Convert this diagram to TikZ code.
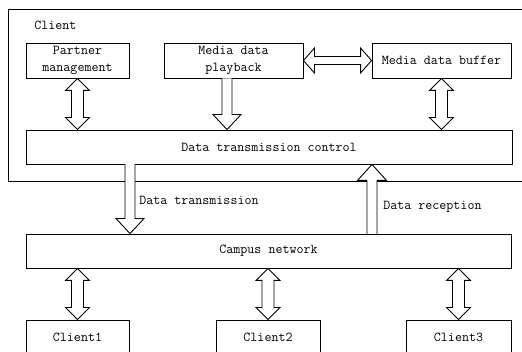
\documentclass[tikz,border=0pt]{standalone}
\usetikzlibrary{calc}
\begin{document}
\begin{tikzpicture}[x=1pt,y=1pt,line width=0.9pt,
  txt/.style={font=\fontsize{13.6}{17}\selectfont\ttfamily},
  blk/.style={draw,fill=white,txt,inner sep=0pt,align=center},
  arr/.style={draw,fill=white,line join=miter}]
\useasboundingbox (0,0) rectangle (522,-352);
\newcommand\mkvdbl[2]{%
 \draw[arr] let \p1=(#1), \p2=(#2) in
  (\x1,\y1) -- (\x1+12pt,\y1-12pt) -- (\x1+6pt,\y1-12pt) -- (\x1+6pt,\y2+12pt) -- (\x1+12pt,\y2+12pt) -- (\x1,\y2) -- (\x1-12pt,\y2+12pt) -- (\x1-6pt,\y2+12pt) -- (\x1-6pt,\y1-12pt) -- (\x1-12pt,\y1-12pt) -- cycle;}
\newcommand\mkdown[2]{%
 \draw[arr] let \p1=(#1), \p2=(#2) in
  (\x1-5pt,\y1) -- (\x1-5pt,\y2+15pt) -- (\x1-14pt,\y2+15pt) -- (\x1,\y2) -- (\x1+14pt,\y2+15pt) -- (\x1+5pt,\y2+15pt) -- (\x1+5pt,\y1);}
\newcommand\mkup[2]{%
 \draw[arr] let \p1=(#1), \p2=(#2) in
  (\x1-5pt,\y1) -- (\x1-5pt,\y2-16pt) -- (\x1-14.5pt,\y2-16pt) -- (\x1,\y2) -- (\x1+14.5pt,\y2-16pt) -- (\x1+5pt,\y2-16pt) -- (\x1+5pt,\y1);}
% outer client frame (open to the right)
\draw (522,-9) -- (8,-9) -- (8,-181) -- (522,-181);
\node[txt,anchor=west,inner sep=0pt] (cl) at (34,-25) {Client};
% blocks
\node[blk,minimum width=103,minimum height=35] (pm) at (77.5,-60.5) {Partner\\management};
\node[blk,minimum width=139,minimum height=35] (pb) at (233.5,-60.5) {Media data\\playback};
\node[blk,minimum width=139,minimum height=35] (buf) at (441.5,-60.5) {Media data buffer};
\node[blk,minimum width=486,minimum height=34] (dtc) at (269,-147) {Data transmission control};
\node[blk,minimum width=485,minimum height=34] (cn) at (268.5,-251) {Campus network};
\node[blk,minimum width=103,minimum height=34] (c1) at (77.5,-337) {Client1};
\node[blk,minimum width=104,minimum height=34] (c2) at (268,-337) {Client2};
\node[blk,minimum width=105,minimum height=34] (c3) at (458.5,-337) {Client3};
% arrows
\mkvdbl{pm.south}{pm.south |- dtc.north}
\coordinate (pbo) at ($(pb.south)+(-6.5,0)$);
\mkdown{pbo}{pbo |- dtc.north}
\mkvdbl{buf.south}{buf.south |- dtc.north}
\draw[arr] let \p1=(pb.east), \p2=(buf.west) in
  (\x1,\y1) -- (\x1+11pt,\y1+12.5pt) -- (\x1+11pt,\y1+4pt) -- (\x2-11pt,\y1+4pt) -- (\x2-11pt,\y1+12.5pt) -- (\x2,\y1) -- (\x2-11pt,\y1-12.5pt) -- (\x2-11pt,\y1-4pt) -- (\x1+11pt,\y1-4pt) -- (\x1+11pt,\y1-12.5pt) -- cycle;
\coordinate (dto) at (130,-164);
\mkdown{dto}{dto |- cn.north}
\coordinate (dro) at (372,-234);
\mkup{dro}{dro |- dtc.south}
\node[txt,anchor=west,inner sep=0pt] (lt) at (139,-200) {Data transmission};
\node[txt,anchor=west,inner sep=0pt] (lr) at (383,-207) {Data reception};
\mkvdbl{c1.north |- cn.south}{c1.north}
\mkvdbl{c2.north |- cn.south}{c2.north}
\mkvdbl{c3.north |- cn.south}{c3.north}
\end{tikzpicture}
\end{document}
